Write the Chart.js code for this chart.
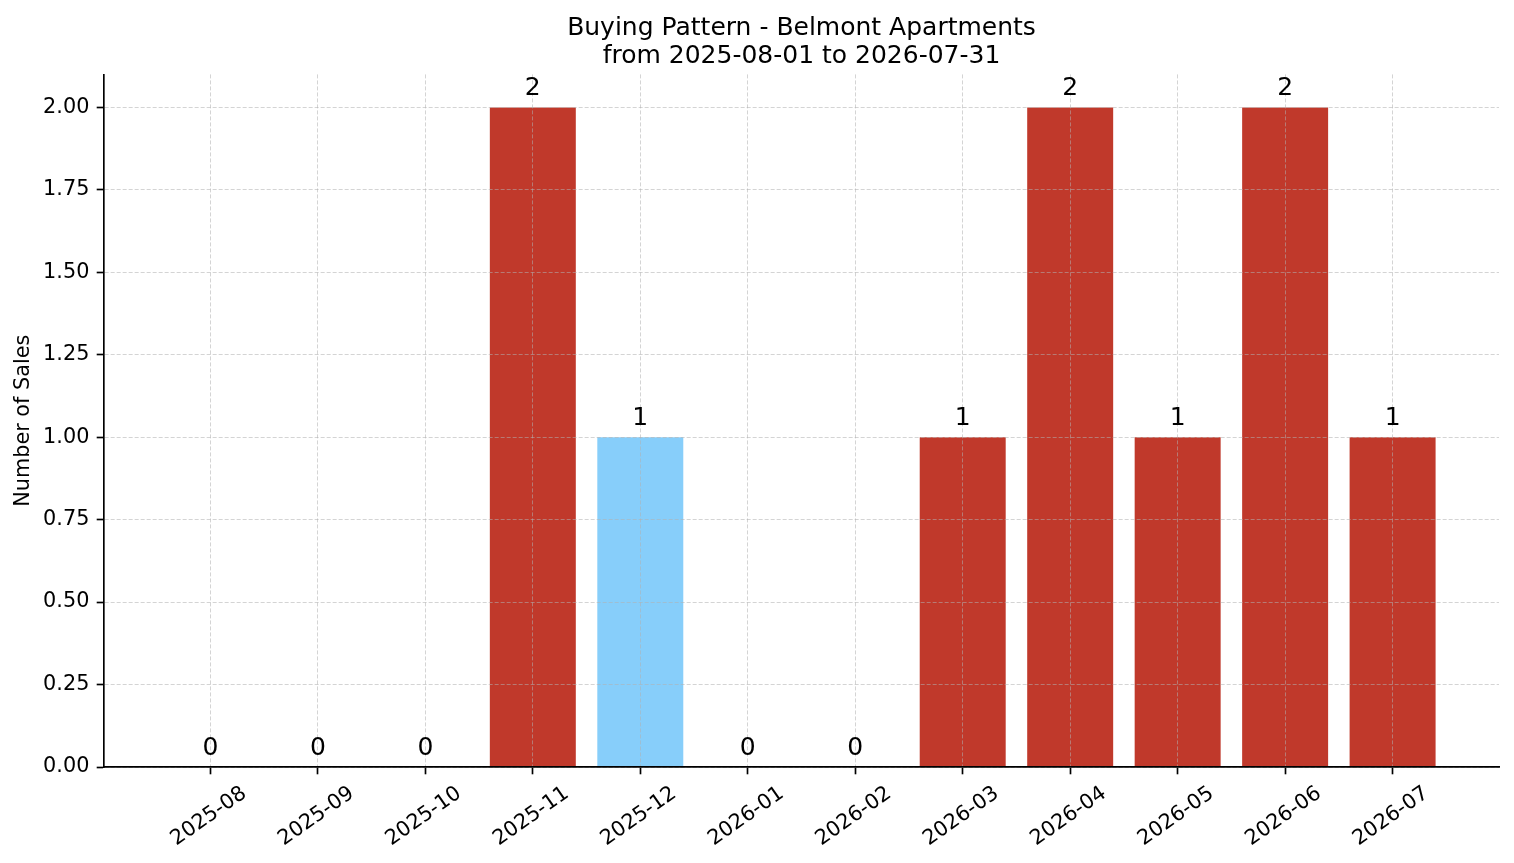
<!DOCTYPE html>
<html>
<head>
<meta charset="utf-8">
<title>Buying Pattern - Belmont Apartments</title>
<script src="https://cdn.jsdelivr.net/npm/chart.js@4.4.1/dist/chart.umd.min.js"></script>
<style>
  html, body { margin: 0; padding: 0; background: #fff; }
  #wrap { width: 1514px; height: 863px; position: relative; }
</style>
</head>
<body>
<div id="wrap"><canvas id="salesChart"></canvas></div>
<script>
var months = ["2025-08", "2025-09", "2025-10", "2025-11", "2025-12", "2026-01",
              "2026-02", "2026-03", "2026-04", "2026-05", "2026-06", "2026-07"];
var sales = [0, 0, 0, 2, 1, 0, 0, 1, 2, 1, 2, 1];
var highlightMonth = "2025-12";
var yTicks = [0, 0.25, 0.5, 0.75, 1.0, 1.25, 1.5, 1.75, 2.0];

var barRed = "#c0392b";
var barBlue = "#87cefa";
var gridColor = "rgba(176,176,176,0.55)";
var fontFamily = "'DejaVu Sans', sans-serif";

// bar value labels, drawn after everything so they sit on top
var valueLabels = {
    id: 'valueLabels',
    afterDraw: function(chart) {
        var ctx = chart.ctx;
        var meta = chart.getDatasetMeta(0);
        ctx.save();
        ctx.font = "25px " + fontFamily;
        ctx.fillStyle = "#000";
        ctx.textAlign = "center";
        ctx.textBaseline = "alphabetic";
        meta.data.forEach(function(bar, i) {
            ctx.fillText(String(sales[i]), bar.x, bar.y - 12);
        });
        ctx.restore();
    }
};

var barData = months.map(function(m, i) { return { x: i, y: sales[i] }; });
var barColors = months.map(function(m) { return m === highlightMonth ? barBlue : barRed; });

var ctx = document.getElementById("salesChart").getContext('2d');
var salesChart = new Chart(ctx, {
    type: 'bar',
    data: {
        datasets: [{
            label: "Number of Sales",
            data: barData,
            backgroundColor: barColors,
            borderWidth: 0,
            barPercentage: 0.8,
            categoryPercentage: 1.0
        }]
    },
    options: {
        responsive: true,
        maintainAspectRatio: false,
        animation: false,
        devicePixelRatio: 1,
        layout: { padding: { left: 0, right: 15, top: 0, bottom: 0 } },
        plugins: {
            legend: { display: false },
            tooltip: { enabled: false },
            title: {
                display: true,
                fullSize: false,
                text: ["Buying Pattern - Belmont Apartments", "from 2025-08-01 to 2026-07-31"],
                color: "#000",
                font: { family: fontFamily, size: 25, weight: 'normal', lineHeight: 1.13 },
                padding: { top: 13.9, bottom: 4 }
            }
        },
        scales: {
            x: {
                type: 'linear',
                min: -0.99,
                max: 11.99,
                offset: false,
                afterBuildTicks: function(scale) {
                    scale.ticks = months.map(function(m, i) { return { value: i }; });
                },
                afterFit: function(scale) { scale.height = 96; },
                ticks: {
                    autoSkip: false,
                    minRotation: 35,
                    maxRotation: 35,
                    labelOffset: 34,
                    padding: 7,
                    color: "#000",
                    font: { family: fontFamily, size: 20.8 },
                    callback: function(value) { return months[value] || ""; }
                },
                grid: {
                    offset: false,
                    z: 1,
                    color: gridColor,
                    lineWidth: 1,
                    tickColor: "#000",
                    tickLength: 7.3,
                    tickWidth: 1.67
                },
                border: { display: true, color: "#000", width: 1.67, z: 2, dash: [4, 2] }
            },
            y: {
                min: 0,
                max: 2.1,
                afterBuildTicks: function(scale) {
                    scale.ticks = yTicks.map(function(v) { return { value: v }; });
                },
                afterFit: function(scale) { scale.width = 104; },
                title: {
                    display: true,
                    text: "Number of Sales",
                    color: "#000",
                    font: { family: fontFamily, size: 20.8, weight: 'normal', lineHeight: 1.2 },
                    padding: { top: 11, bottom: 0 }
                },
                ticks: {
                    padding: 7.3,
                    color: "#000",
                    font: { family: fontFamily, size: 20.8 },
                    callback: function(value) { return Number(value).toFixed(2); }
                },
                grid: {
                    z: 1,
                    color: gridColor,
                    lineWidth: 1,
                    tickColor: "#000",
                    tickLength: 7.3,
                    tickWidth: 1.67
                },
                border: { display: true, color: "#000", width: 1.67, z: 2, dash: [4, 2] }
            }
        }
    },
    plugins: [valueLabels]
});
</script>
</body>
</html>
